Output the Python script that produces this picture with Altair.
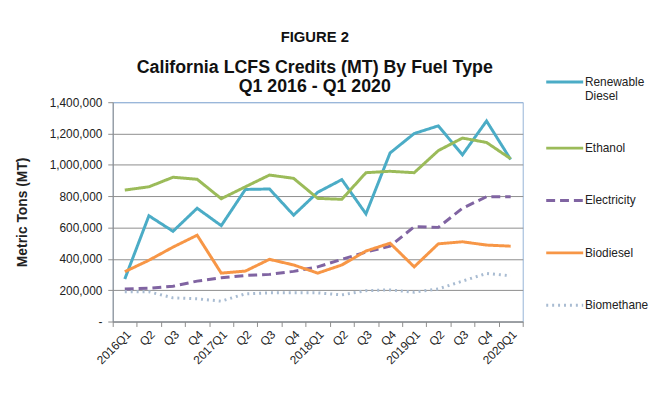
import altair as alt
import pandas as pd

quarters = ["2016Q1", "2016Q2", "2016Q3", "2016Q4",
            "2017Q1", "2017Q2", "2017Q3", "2017Q4",
            "2018Q1", "2018Q2", "2018Q3", "2018Q4",
            "2019Q1", "2019Q2", "2019Q3", "2019Q4",
            "2020Q1"]

fuel_types = ["Renewable\nDiesel", "Ethanol", "Electricity", "Biodiesel", "Biomethane"]

renewable_diesel = [271000, 675000, 576000, 723000, 612000, 843000, 846000, 679000,
                    825000, 906000, 687000, 1076000, 1200000, 1249000, 1064000, 1280000, 1034000]
ethanol = [839000, 860000, 921000, 908000, 784000, 860000, 935000, 914000,
           786000, 780000, 950000, 959000, 950000, 1091000, 1171000, 1143000, 1039000]
electricity = [208000, 212000, 225000, 258000, 279000, 294000, 301000, 320000,
               349000, 397000, 443000, 481000, 605000, 601000, 723000, 797000, 797000]
biodiesel = [318000, 391000, 475000, 551000, 309000, 322000, 397000, 361000,
             309000, 361000, 450000, 500000, 349000, 496000, 509000, 488000, 481000]
biomethane = [190000, 190000, 151000, 145000, 130000, 177000, 183000, 183000,
              183000, 170000, 197000, 202000, 187000, 208000, 258000, 307000, 292000]

series_values = [renewable_diesel, ethanol, electricity, biodiesel, biomethane]

rows = []
for name, vals in zip(fuel_types, series_values):
    for q, v in zip(quarters, vals):
        rows.append({"Quarter": q, "Fuel": name, "Credits": v})
df = pd.DataFrame(rows)

colors = ["#4BACC6", "#9BBB59", "#8064A2", "#F79646", "#A9BCD2"]
dashes = [[1, 0], [1, 0], [9, 5], [1, 0], [2, 4]]

legend_opts = dict(title=None, orient="none", legendX=437, legendY=-41,
                   symbolType="stroke", symbolSize=1400, symbolStrokeWidth=3,
                   labelFontSize=12, labelColor="#222", rowPadding=26,
                   labelExpr="split(datum.label, '\\n')", labelOffset=0)

base = alt.Chart(df).mark_line(strokeWidth=3).encode(
    x=alt.X("Quarter:O", sort=quarters,
            scale=alt.Scale(type="band", paddingInner=0, paddingOuter=0),
            axis=alt.Axis(title=None, labelAngle=-45, tickBand="extent",
                          labelExpr="indexof(datum.label, 'Q1') > 0 ? datum.label : substring(datum.label, 4)",
                          labelFontSize=12, labelColor="#222", domainColor="#8c8c8c",
                          tickColor="#8c8c8c", tickSize=5, labelPadding=2)),
    y=alt.Y("Credits:Q",
            scale=alt.Scale(domain=[0, 1400000], nice=False),
            axis=alt.Axis(title="Metric Tons (MT)", values=[0, 200000, 400000, 600000, 800000,
                                                           1000000, 1200000, 1400000],
                          labelExpr="datum.value == 0 ? '-' : format(datum.value, ',')",
                          labelFontSize=12, labelColor="#222", titleFontSize=14,
                          titleFontWeight="bold", titleColor="#222", titlePadding=20,
                          domainColor="#8c8c8c", tickColor="#8c8c8c", tickSize=5,
                          labelPadding=6,
                          gridColor={"condition": {"test": "datum.value == 1400000", "value": "#95B3D7"},
                                     "value": "#8c8c8c"},
                          grid=True)),
    color=alt.Color("Fuel:N", sort=fuel_types,
                    scale=alt.Scale(domain=fuel_types, range=colors),
                    legend=alt.Legend(**legend_opts)),
    strokeDash=alt.StrokeDash("Fuel:N", sort=fuel_types,
                              scale=alt.Scale(domain=fuel_types, range=dashes),
                              legend=alt.Legend(**legend_opts)),
    order=alt.Order("Fuel:N"),
)

chart = base.properties(
    width=415, height=222,
    title=alt.TitleParams(
        text="FIGURE 2",
        subtitle=["California LCFS Credits (MT) By Fuel Type", "Q1 2016 - Q1 2020"],
        fontSize=15, fontWeight="bold", color="#111",
        subtitleFontSize=18, subtitleFontWeight="bold", subtitleColor="#111",
        subtitlePadding=14, subtitleLineHeight=20, offset=-35, anchor="middle", dx=-3,
        font="Liberation Sans", subtitleFont="Liberation Sans"),
    autosize=alt.AutoSizeParams(type="none"),
    padding={"left": 106, "top": 93, "right": 143, "bottom": 70},
).configure(font="Liberation Sans").configure_view(stroke="#95B3D7", strokeWidth=1)

chart.save("out.html", embed_options={"renderer": "svg", "actions": False})
